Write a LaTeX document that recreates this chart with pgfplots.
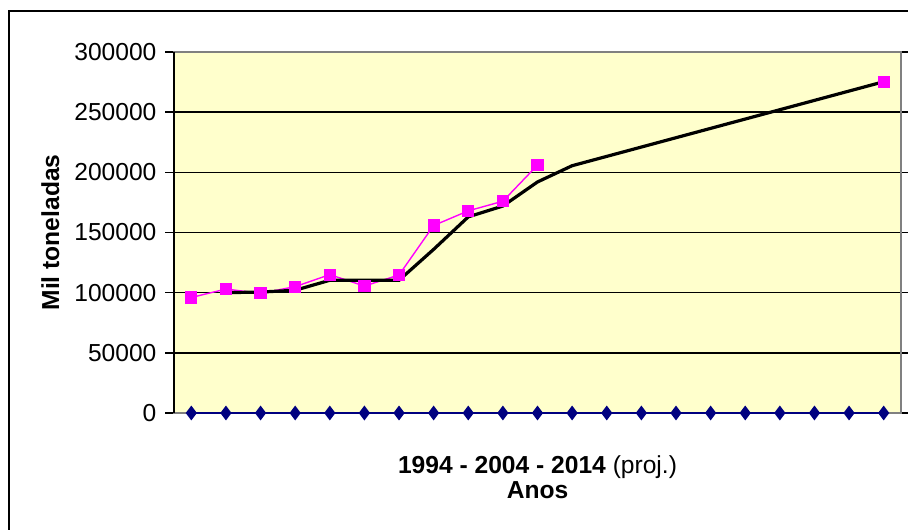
\documentclass[border=0pt]{standalone}
\usepackage{pgfplots}
\usepackage{pgfplotstable}
\pgfplotsset{compat=1.18}
\usepackage{fontspec}
\setmainfont{Liberation Sans}
\definecolor{bgyellow}{HTML}{FFFFCC}
\definecolor{navyc}{HTML}{000080}
\definecolor{magc}{HTML}{FF00FF}
\definecolor{framegray}{HTML}{808080}

\pgfplotstableread{
year value
1994 96000
1995 103000
1996 99500
1997 105000
1998 115000
1999 105500
2000 114700
2001 155800
2002 168000
2003 176000
2004 206000
}\observed

\pgfplotstableread{
year value
1995 100000
1996 100500
1997 102000
1998 110300
1999 110300
2000 110300
2001 136000
2002 163000
2003 172000
2004 192000
2005 205500
2014 275300
}\trend

\pgfplotstableread{
year value
1994 0
1995 0
1996 0
1997 0
1998 0
1999 0
2000 0
2001 0
2002 0
2003 0
2004 0
2005 0
2006 0
2007 0
2008 0
2009 0
2010 0
2011 0
2012 0
2013 0
2014 0
}\zeroline

\begin{document}
\fontsize{12.3}{13}\selectfont
\begin{tikzpicture}
\path[use as bounding box] (0,0) rectangle (454pt,264.5pt);
\draw[line width=1pt] (4.5pt,-10pt) -- (4.5pt,258.8pt) -- (470pt,258.8pt);
\begin{axis}[
  at={(87pt,58pt)}, anchor=south west,
  scale only axis, width=363.5pt, height=180.5pt,
  xmin=1993.5, xmax=2014.5, ymin=0, ymax=300000,
  xtick=\empty,
  ytick={0,50000,100000,150000,200000,250000,300000},
  scaled y ticks=false,
  yticklabel={\pgfmathprintnumber[fixed,precision=0,1000 sep={},assume math mode=true]{\tick}},
  tick align=outside, major tick length=4.5pt,
  ytick style={black, line width=0.8pt},
  ymajorgrids, grid style={black, line width=0.8pt},
  axis background/.style={fill=bgyellow},
  axis line style={framegray, line width=1pt},
  clip=false,
  yticklabel style={font=\fontsize{12.3}{13}\selectfont},
  xlabel={\textbf{1994 - 2004 - 2014} (proj.)\\\textbf{Anos}},
  xlabel style={at={(axis description cs:0.5,0)}, anchor=center, yshift=-32pt, align=center, font=\fontsize{12.3}{12.5}\selectfont},
  ylabel={\textbf{Mil toneladas}},
  ylabel style={at={(axis description cs:-0.17,0.5)}, anchor=center, font=\fontsize{12.3}{13}\selectfont},
]
\addplot[navyc, line width=1pt, mark=diamond*, mark size=2.9pt, mark options={fill=navyc, draw=navyc}] table[x=year, y=value] {\zeroline};
\addplot[magc, line width=0.7pt, mark=square*, mark size=2.7pt, mark options={fill=magc, draw=magc}] table[x=year, y=value] {\observed};
\addplot[only marks, magc, mark=square*, mark size=2.7pt, mark options={fill=magc, draw=magc}] coordinates {(2014,275300)};
\addplot[black, line width=1.6pt, mark=none] table[x=year, y=value] {\trend};
\draw[black, line width=1pt] (rel axis cs:0,0) -- (rel axis cs:0,1);
\end{axis}
\end{tikzpicture}
\end{document}
